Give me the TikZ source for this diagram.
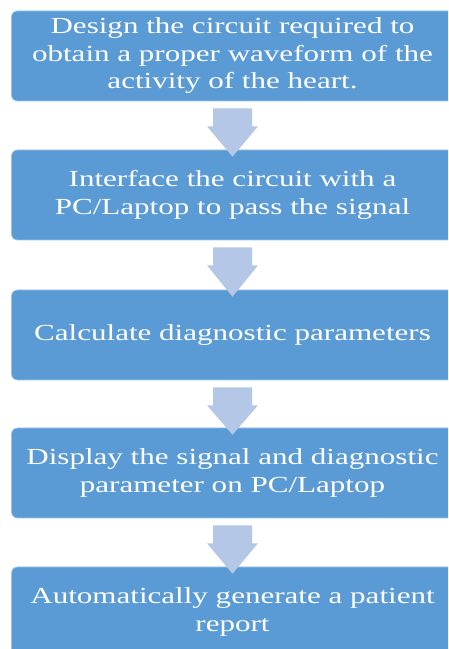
\documentclass[tikz,border=0pt]{standalone}
\usepackage{fontspec}
\setmainfont{Liberation Serif}
\newfontfamily\boxfont[FakeStretch=1.35]{Liberation Serif}
\usetikzlibrary{calc}
\definecolor{boxblue}{HTML}{5B9BD5}
\definecolor{arrowblue}{HTML}{B4C7E7}
\tikzset{
  x=1pt,y=1pt,
  stepbox/.style={fill=boxblue, draw=boxblue!60!white, line width=0.6pt, rounded corners=6pt,
    minimum width=442pt, minimum height=90pt, inner sep=0pt, text=white, align=center,
    font=\boxfont\fontsize{23}{27.5}\selectfont},
  flowarrow/.style={fill=arrowblue, draw=none}
}
\newcommand{\downarrowshape}[2]{%
  \fill[flowarrow] ($(#1.south)+(-19.5,-7)$) -- ($(#1.south)+(19.5,-7)$) -- ($(#1.south)+(19.5,-25)$)
    -- ($(#1.south)+(25.5,-25)$) -- ($(#2.north)+(0,-7)$) -- ($(#1.south)+(-25.5,-25)$)
    -- ($(#1.south)+(-19.5,-25)$) -- cycle;}
\begin{document}
\begin{tikzpicture}
\useasboundingbox (0,0) rectangle (448,649);
\clip (0,0) rectangle (448,649);
\fill[white] (0,0) rectangle (448,649);
\node[stepbox] (b1) at (232.5,593) {Design the circuit required to\\obtain a proper waveform of the\\activity of the heart.};
\node[stepbox] (b2) at (232.5,454) {Interface the circuit with a\\PC/Laptop to pass the signal};
\node[stepbox] (b3) at (232.5,314) {Calculate diagnostic parameters};
\node[stepbox] (b4) at (232.5,176) {Display the signal and diagnostic\\parameter on PC/Laptop};
\node[stepbox] (b5) at (232.5,37) {Automatically generate a patient\\report};
\downarrowshape{b1}{b2}
\downarrowshape{b2}{b3}
\downarrowshape{b3}{b4}
\downarrowshape{b4}{b5}
\end{tikzpicture}
\end{document}
